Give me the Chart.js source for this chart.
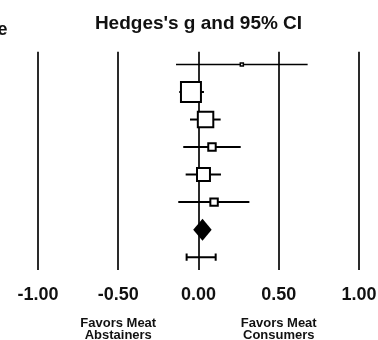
<!DOCTYPE html>
<html>
<head>
<meta charset="utf-8">
<script src="https://cdn.jsdelivr.net/npm/chart.js@4.4.1/dist/chart.umd.min.js"></script>
<style>
  html, body { margin: 0; padding: 0; background: #fff; }
  #wrap { width: 378px; height: 340px; position: relative; }
</style>
</head>
<body>
<div id="wrap"><canvas id="c" width="378" height="340"></canvas></div>
<script>
// Per-study effect sizes (Hedges's g) with 95% confidence limits
const studyEffects = [0.27, -0.047, 0.044, 0.084, 0.031, 0.097];
const studyLower   = [-0.14, -0.12, -0.053, -0.095, -0.08, -0.126];
const studyUpper   = [0.68, 0.034, 0.138, 0.263, 0.14, 0.317];
// Relative weights (%) – box area scales with weight
const studyWeights = [1.0, 43.2, 25.9, 6.0, 18.2, 6.0];

// Pooled estimate and its confidence interval
const summaryEffect = 0.025;
const summaryLower  = -0.033;
const summaryUpper  = 0.082;

// Prediction interval
const predictionLower = -0.074;
const predictionUpper = 0.107;

// Axis ticks and side captions
const xTicks = [-1.0, -0.5, 0.0, 0.5, 1.0];
const favorText = [['Favors Meat', 'Abstainers'], ['Favors Meat', 'Consumers']];
const favorAt = [-0.5, 0.5];

const FONT = '"Liberation Sans", Arial, Helvetica, sans-serif';
const summaryRow = studyEffects.length;
const predictionRow = studyEffects.length + 1;

const forestPlugin = {
  id: 'forest',
  beforeDatasetsDraw(chart) {
    const { ctx, scales: { x, y } } = chart;
    ctx.save();
    ctx.strokeStyle = '#000';
    ctx.lineCap = 'butt';
    // confidence interval whiskers
    studyEffects.forEach((_, i) => {
      const py = y.getPixelForValue(i);
      ctx.lineWidth = i === 0 ? 1.5 : 2;
      ctx.beginPath();
      ctx.moveTo(x.getPixelForValue(studyLower[i]), py);
      ctx.lineTo(x.getPixelForValue(studyUpper[i]), py);
      ctx.stroke();
    });
    // pooled diamond
    const sy = y.getPixelForValue(summaryRow);
    const dh = y.getPixelForValue(summaryRow + 0.4) - sy;
    ctx.fillStyle = '#000';
    ctx.beginPath();
    ctx.moveTo(x.getPixelForValue(summaryLower), sy);
    ctx.lineTo(x.getPixelForValue(summaryEffect), sy - dh);
    ctx.lineTo(x.getPixelForValue(summaryUpper), sy);
    ctx.lineTo(x.getPixelForValue(summaryEffect), sy + dh);
    ctx.closePath();
    ctx.fill();
    // prediction interval with end caps
    const py = y.getPixelForValue(predictionRow);
    const cap = y.getPixelForValue(predictionRow + 0.13) - py;
    const pl = x.getPixelForValue(predictionLower);
    const pr = x.getPixelForValue(predictionUpper);
    ctx.lineWidth = 2;
    ctx.beginPath();
    ctx.moveTo(pl, py); ctx.lineTo(pr, py);
    ctx.moveTo(pl, py - cap); ctx.lineTo(pl, py + cap);
    ctx.moveTo(pr, py - cap); ctx.lineTo(pr, py + cap);
    ctx.stroke();
    ctx.restore();
  },
  afterDraw(chart) {
    const { ctx, scales: { x } } = chart;
    ctx.save();
    ctx.fillStyle = '#111';
    ctx.textAlign = 'center';
    ctx.textBaseline = 'middle';
    ctx.font = 'bold 13px ' + FONT;
    favorText.forEach((lines, i) => {
      const px = x.getPixelForValue(favorAt[i]);
      lines.forEach((t, j) => ctx.fillText(t, px, 323.5 + j * 11.5));
    });
    // trailing letter of the left column heading
    ctx.font = 'bold 18px ' + FONT;
    ctx.textAlign = 'right';
    ctx.textBaseline = 'alphabetic';
    ctx.fillText('e', 7.5, 35);
    ctx.restore();
  }
};

new Chart(document.getElementById('c'), {
  type: 'scatter',
  data: {
    datasets: [{
      data: studyEffects.map((v, i) => ({ x: v, y: i })),
      pointStyle: 'rect',
      pointRadius: studyWeights.map(w => 2.15 * Math.sqrt(w)),
      pointBackgroundColor: '#fff',
      pointBorderColor: '#000',
      pointBorderWidth: studyWeights.map((w, i) => i === 0 ? 1.5 : 2),
      showLine: false
    }]
  },
  options: {
    responsive: false,
    animation: false,
    events: [],
    layout: { padding: { left: 38, right: 19, top: 0, bottom: 34 } },
    plugins: {
      legend: { display: false },
      tooltip: { enabled: false },
      title: {
        display: true,
        text: "Hedges's g and 95% CI",
        color: '#111',
        font: { family: FONT, size: 19, weight: 'bold' },
        padding: { top: 12, bottom: 17 }
      }
    },
    scales: {
      x: {
        type: 'linear',
        min: -1, max: 1,
        afterBuildTicks(scale) { scale.ticks = xTicks.map(v => ({ value: v })); },
        grid: { color: '#2a2a2a', lineWidth: 2, drawTicks: true, tickLength: 14, tickColor: 'rgba(0,0,0,0)' },
        border: { display: false },
        ticks: {
          padding: 0,
          maxRotation: 0,
          color: '#111',
          font: { family: FONT, size: 18, weight: 'bold' },
          callback: v => Number(v).toFixed(2)
        }
      },
      y: {
        type: 'linear',
        display: false,
        reverse: true,
        min: -0.46, max: 7.48
      }
    }
  },
  plugins: [forestPlugin]
});
</script>
</body>
</html>
